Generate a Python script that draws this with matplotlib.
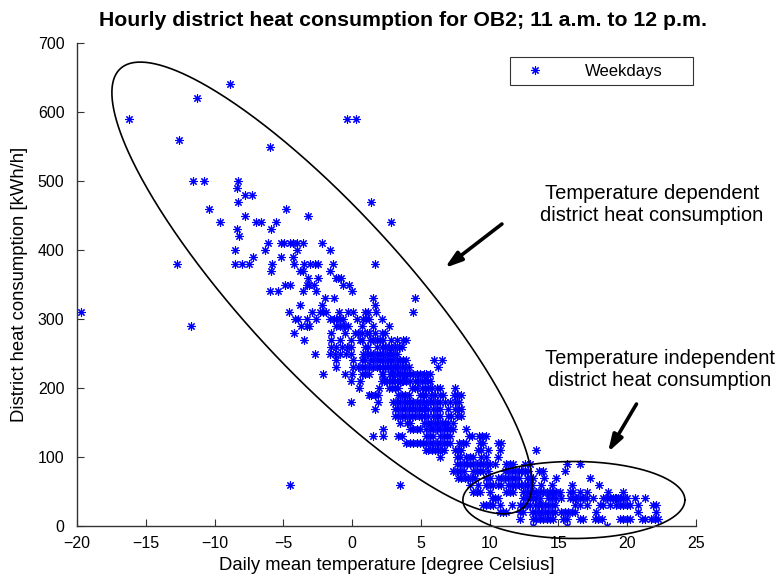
import numpy as np
import matplotlib
matplotlib.use("Agg")
import matplotlib.pyplot as plt

plt.rcParams["font.family"] = ["Liberation Sans", "DejaVu Sans"]

# Hourly consumption levels [kWh/h] and the daily mean temperatures [deg C]
# of the weekday hours that fall on each level.
levels = [640, 620, 590, 560, 550, 500, 490, 480, 470, 460, 450, 440, 430, 420,
          410, 400, 390, 380, 370, 360, 350, 340, 330, 320, 310, 300, 290, 280,
          270, 260, 250, 240, 230, 220, 210, 200, 190, 180, 170, 160, 150, 140,
          130, 120, 110, 100, 90, 80, 70, 60, 50, 40, 30, 20, 10, 0]

temps_by_level = [
    [-8.9],
    [-11.3],
    [-16.2, -0.4, 0.3],
    [-12.6],
    [-6.0],
    [-11.6, -10.8, -8.3],
    [-8.4],
    [-7.8, -7.3],
    [-8.3, 1.4],
    [-10.4, -4.8],
    [-7.8, -3.2],
    [-9.6, -7.0, -6.6, -5.5, 2.8],
    [-8.4, -5.9],
    [-8.2],
    [-6.1, -5.2, -4.95, -4.5, -4.3, -4.0, -3.55, -2.2],
    [-8.5, -6.3, -4.0, -1.6],
    [-7.2, -5.2, -4.3],
    [-12.7, -8.5, -8.0, -7.5, -5.8, -4.2, -3.5, -3.05, -2.7, -2.5, -1.4, 1.7],
    [-5.9, -3.8, -3.55, -1.6],
    [-3.2, -2.5, -1.2, -1.0, -0.8],
    [-4.9, -4.5, -3.3, -3.1, -2.75, -0.65, -0.2],
    [-6.0, -5.4, -3.6, -2.6, 0.0],
    [-2.0, -1.35, 1.5, 4.6],
    [-3.8, -2.2, 1.65],
    [-19.7, -4.6, -2.9, -2.35, -2.1, -1.9, -0.95, -0.3, 0.1, 0.95, 1.15, 1.75, 4.4],
    [-4.15, -3.9, -3.25, -2.6, -1.6, -1.35, -1.15, -0.9, -0.65, 0.35, 0.8, 1.0,
     1.2, 2.2],
    [-11.7, -3.7, -3.3, -3.1, -1.15, -0.9, -0.6, -0.3, 0.75, 1.5, 2.7],
    [-4.2, -1.5, -0.5, 0.2, 0.45, 0.7, 1.05, 1.2, 1.65, 2.15, 2.4],
    [-3.5, -1.55, -0.9, -0.05, 0.55, 0.75, 1.3, 1.55, 1.8, 2.0, 2.25, 2.85, 3.25,
     3.7, 3.95],
    [-1.55, -1.2, -0.75, -0.35, -0.05, 0.95, 1.15, 1.8, 2.15, 2.4, 2.65, 2.85,
     3.1, 3.4, 3.65],
    [-2.7, -1.6, -1.25, -0.85, -0.45, -0.1, 0.8, 1.05, 1.3, 1.55, 1.8, 2.0, 2.25,
     2.5, 2.75, 3.0, 3.25],
    [-1.15, 0.1, 0.7, 0.95, 1.3, 1.55, 1.8, 2.0, 2.25, 2.5, 2.75, 3.0, 3.25, 3.5,
     3.7, 3.95, 5.95, 6.55],
    [-1.2, 0.05, 0.45, 0.7, 0.95, 1.2, 1.5, 1.8, 2.0, 2.15, 2.4, 2.6, 2.85, 3.0,
     3.1, 3.35, 3.6, 3.85, 4.1, 6.25],
    [-2.1, -0.55, 0.0, 0.7, 0.95, 1.2, 2.15, 2.25, 2.75, 2.9, 3.0, 3.25, 3.5, 3.6,
     3.75, 4.0, 4.2, 4.45, 4.7, 4.95, 5.2, 5.4, 5.65],
    [-0.05, 0.55, 2.15, 2.3, 2.5, 2.65, 2.9, 3.1, 3.25, 3.45, 3.6, 3.7, 3.95, 4.2,
     4.55, 4.8, 5.05, 5.3, 5.55, 5.65],
    [0.5, 1.95, 2.65, 2.9, 3.1, 3.35, 4.35, 4.55, 4.75, 5.05, 5.3, 5.55, 5.8,
     6.15, 6.4, 7.5],
    [1.2, 1.4, 1.65, 1.9, 3.35, 3.6, 3.85, 4.1, 4.95, 5.15, 5.4, 5.7, 6.0, 6.4,
     6.6, 7.4, 7.65, 7.95],
    [-0.1, 1.85, 3.0, 3.25, 3.5, 3.75, 4.0, 4.2, 4.45, 4.7, 4.95, 5.2, 5.4, 5.65,
     5.9, 6.15, 6.4, 6.75, 7.1, 7.45, 7.8],
    [1.65, 3.1, 3.35, 3.6, 3.85, 4.1, 4.35, 4.6, 4.85, 5.05, 5.3, 5.55, 5.9, 6.15,
     6.4, 7.0, 7.45, 7.75, 7.95],
    [3.1, 3.35, 3.6, 3.85, 4.1, 4.35, 4.6, 4.85, 5.05, 5.25, 5.5, 5.9, 6.15, 6.4,
     6.95, 7.2, 7.6, 7.95],
    [3.5, 4.0, 4.2, 5.25, 5.5, 5.75, 6.0, 6.25, 6.5, 6.75, 7.0, 7.3],
    [2.25, 4.2, 4.45, 4.7, 4.95, 5.4, 5.65, 5.9, 6.15, 6.4, 6.65, 6.9, 7.1, 7.35,
     8.3],
    [1.55, 2.25, 3.35, 3.6, 5.4, 5.65, 5.9, 6.4, 6.65, 6.9, 7.1, 8.5, 8.75, 9.2,
     9.45, 9.75],
    [3.95, 4.2, 4.45, 4.7, 4.95, 5.15, 5.4, 5.65, 5.9, 6.15, 6.4, 6.65, 6.9, 7.1,
     7.8, 8.05, 8.3, 9.3, 9.55, 10.6, 10.85],
    [5.4, 5.55, 5.8, 6.0, 6.25, 6.5, 6.65, 7.45, 7.7, 7.95, 9.15, 9.4, 9.9, 10.75,
     13.4],
    [6.4, 7.6, 7.85, 8.3, 8.55, 8.8, 9.4, 9.75, 10.6],
    [7.6, 7.85, 8.1, 8.35, 8.6, 8.8, 9.05, 9.3, 9.55, 9.8, 10.0, 10.4, 11.2,
     11.45, 11.7, 12.55, 12.9, 15.6, 16.55],
    [7.35, 7.6, 7.85, 8.1, 8.8, 9.05, 9.3, 9.55, 9.9, 11.1, 11.35, 11.6, 11.85,
     12.1, 12.3, 12.55, 12.8, 13.55, 13.9, 15.5],
    [7.7, 7.95, 8.2, 8.45, 8.7, 8.95, 9.75, 10.0, 10.6, 10.85, 11.1, 11.35, 11.6,
     11.85, 12.1, 12.7, 12.9, 13.15, 13.95, 14.8, 17.3],
    [-4.55, 3.45, 8.55, 9.15, 9.75, 10.0, 10.25, 10.6, 10.85, 11.35, 11.6, 11.85,
     12.1, 12.3, 12.55, 12.8, 13.05, 13.75, 14.5, 16.0, 17.95],
    [8.8, 9.05, 9.3, 10.0, 11.2, 11.45, 11.7, 12.45, 12.7, 12.9, 13.15, 13.4,
     13.65, 13.9, 14.15, 14.35, 14.6, 14.85, 15.1, 15.85, 16.05, 16.55, 17.05,
     18.6, 19.7],
    [10.15, 10.4, 10.6, 12.45, 12.7, 12.9, 13.15, 13.4, 13.65, 14.25, 14.5, 14.85,
     15.15, 15.85, 16.05, 16.3, 16.55, 16.8, 17.05, 17.5, 18.25, 18.5, 18.75,
     19.0, 19.1, 19.2, 19.35, 19.45, 19.7, 19.95, 20.55, 21.3],
    [9.55, 9.75, 10.0, 10.25, 10.75, 11.6, 12.2, 12.45, 12.7, 12.9, 13.3, 13.55,
     13.75, 14.0, 14.25, 14.5, 14.75, 16.2, 16.55, 17.05, 18.0, 18.25, 18.75,
     19.2, 19.45, 19.7, 19.95, 20.2, 20.8, 21.9, 22.1],
    [10.75, 11.0, 11.2, 12.2, 12.45, 13.05, 13.3, 13.55, 13.75, 14.0, 14.25, 14.5,
     14.75, 15.2, 15.45, 15.7, 15.95, 16.2, 17.75, 20.8, 22.1],
    [12.2, 13.15, 13.4, 13.65, 13.9, 14.15, 14.35, 14.6, 15.35, 15.6, 16.55, 16.8,
     17.65, 17.9, 18.15, 19.45, 19.7, 19.95, 20.2, 21.05, 21.3, 21.75, 22.0,
     22.25],
    [13.15, 15.6, 18.5],
]

temperature = []
consumption = []
for level, temps in zip(levels, temps_by_level):
    temperature.extend(temps)
    consumption.extend([level] * len(temps))

x_ticks = [-20, -15, -10, -5, 0, 5, 10, 15, 20, 25]
y_ticks = [0, 100, 200, 300, 400, 500, 600, 700]

fig = plt.figure(figsize=(7.79, 5.76), dpi=100)
ax = fig.add_axes([0.0988, 0.0868, 0.7947, 0.8385])

# Asterisk marker: "+" and "x" strokes through the centre
asterisk = (8, 2, 0)
ax.plot(temperature, consumption, linestyle="none", marker=asterisk,
        color="#0000ff", markersize=6, markeredgewidth=0.8, label="Weekdays")

ax.set_xlim(-20, 25)
ax.set_ylim(0, 700)
ax.set_xticks(x_ticks)
ax.set_yticks(y_ticks)
for side in ("top", "right"):
    ax.spines[side].set_visible(False)
for side in ("left", "bottom"):
    ax.spines[side].set_linewidth(1.0)
    ax.spines[side].set_color("#333333")
ax.tick_params(direction="in", length=5, width=0.8, color="#333333",
               labelsize=11.5)
ax.tick_params(axis="x", pad=7)
ax.tick_params(axis="y", pad=9)

ax.set_title("Hourly district heat consumption for OB2; 11 a.m. to 12 p.m.",
             fontsize=15.3, fontweight="bold", pad=0, x=0.526, y=1.0476,
             verticalalignment="center")
ax.set_xlabel("Daily mean temperature [degree Celsius]", fontsize=13.3)
ax.set_ylabel("District heat consumption [kWh/h]", fontsize=13.3)
ax.xaxis.set_label_coords(0.5, -0.064)
ax.yaxis.set_label_coords(-0.079, 0.5)

# Ellipse around the temperature dependent hours (tilted, given by centre and
# two conjugate semi-axis vectors in data units).
t = np.linspace(0, 2 * np.pi, 500)
big_c = (-2.19, 345.0)
big_a = (14.66, -317.8)
big_b = (4.28, 78.6)
ax.plot(big_c[0] + big_a[0] * np.cos(t) + big_b[0] * np.sin(t),
        big_c[1] + big_a[1] * np.cos(t) + big_b[1] * np.sin(t),
        color="black", linewidth=1.2, clip_on=False)

# Ellipse around the temperature independent hours.
small_c = (16.12, 37.7)
small_w, small_h = 8.07, 55.8
ax.plot(small_c[0] + small_w * np.cos(t), small_c[1] + small_h * np.sin(t),
        color="black", linewidth=1.2, clip_on=False)

arrow_style = dict(arrowstyle="-|>,head_length=1.0,head_width=0.32", lw=2.6,
                   color="black", shrinkA=0, shrinkB=0)
ax.annotate("", xy=(6.74, 374), xytext=(10.89, 437.7), arrowprops=arrow_style,
            annotation_clip=False)
ax.annotate("", xy=(18.6, 107), xytext=(20.67, 176.8), arrowprops=arrow_style,
            annotation_clip=False)

ax.text(21.79, 466, "Temperature dependent\ndistrict heat consumption",
        ha="center", va="center", fontsize=14.5, linespacing=1.25, clip_on=False)
ax.text(22.37, 227, "Temperature independent\ndistrict heat consumption",
        ha="center", va="center", fontsize=14.5, linespacing=1.25, clip_on=False)

leg = ax.legend(loc="upper left", bbox_to_anchor=(0.6995, 0.907, 0.2955, 0.064),
                mode="expand", fontsize=12, frameon=True, fancybox=False,
                edgecolor="black", handlelength=2.2, borderpad=0.4,
                handletextpad=1.9, borderaxespad=0)
leg.get_frame().set_linewidth(0.8)

fig.savefig("out.png", dpi=100)
